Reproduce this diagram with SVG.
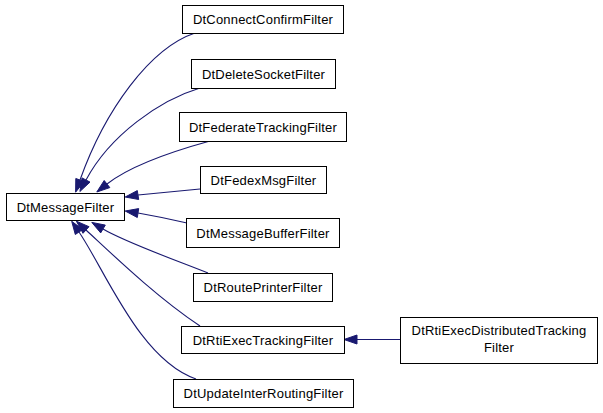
<svg xmlns="http://www.w3.org/2000/svg" width="603" height="413" viewBox="0 0 603 413">
<style>
.box{fill:#fff;stroke:#000;stroke-width:1}
.lbl{font-family:"Liberation Sans",Arial,sans-serif;font-size:13px;letter-spacing:0.2px;fill:#000;text-anchor:middle}
.edge{fill:none;stroke:#191970;stroke-width:1.1}
.head{fill:#191970;stroke:#191970;stroke-width:1}
</style>
<rect width="603" height="413" fill="#fff"/>
<g id="connectors">
<path class="edge" d="M195,33 C150,48 105,110 80,180"/>
<polygon class="head" points="84.2,181.5 75.6,192.2 75.8,178.5"/>
<path class="edge" d="M200,88 C160,100 110,135 86,180"/>
<polygon class="head" points="90,182.1 79.9,191.5 82,177.9"/>
<path class="edge" d="M210,141 C170,152 130,166 107,184"/>
<polygon class="head" points="109.8,187.6 96.8,192 104.2,180.5"/>
<path class="edge" d="M200,189 C180,191 160,193 138,195"/>
<polygon class="head" points="138.7,199.5 125.2,197 137.3,190.6"/>
<path class="edge" d="M187,223 C170,219 155,216 138,213"/>
<polygon class="head" points="137.3,217.5 125.2,211 138.7,208.6"/>
<path class="edge" d="M208,273 C170,258 125,242 103,229"/>
<polygon class="head" points="105.3,225.1 91.8,222.4 100.7,232.9"/>
<path class="edge" d="M200,326 C155,296 110,252 86,230"/>
<polygon class="head" points="89,226.7 76.4,221.2 83,233.3"/>
<path class="edge" d="M196,379 C140,360 105,270 79,232"/>
<polygon class="head" points="82.7,229.5 71.7,221.3 75.3,234.5"/>
<path class="edge" d="M400,339.5 L357,339.5"/>
<polygon class="head" points="357,344 344,339.5 357,335"/>
</g>
<g id="DtMessageFilter"><rect class="box" x="6.5" y="193.5" width="118" height="27"/><text class="lbl" x="65.5" y="211.5">DtMessageFilter</text></g>
<g id="DtConnectConfirmFilter"><rect class="box" x="182.5" y="5.5" width="161" height="28"/><text class="lbl" x="263" y="24">DtConnectConfirmFilter</text></g>
<g id="DtDeleteSocketFilter"><rect class="box" x="191.5" y="59.5" width="144" height="29"/><text class="lbl" x="263.5" y="78.5">DtDeleteSocketFilter</text></g>
<g id="DtFederateTrackingFilter"><rect class="box" x="179.5" y="112.5" width="167" height="29"/><text class="lbl" x="263" y="131.5">DtFederateTrackingFilter</text></g>
<g id="DtFedexMsgFilter"><rect class="box" x="200.5" y="166.5" width="126" height="27"/><text class="lbl" x="263.5" y="184.5">DtFedexMsgFilter</text></g>
<g id="DtMessageBufferFilter"><rect class="box" x="186.5" y="218.5" width="153" height="29"/><text class="lbl" x="263" y="237.5">DtMessageBufferFilter</text></g>
<g id="DtRoutePrinterFilter"><rect class="box" x="193.5" y="273.5" width="139" height="28"/><text class="lbl" x="263" y="292">DtRoutePrinterFilter</text></g>
<g id="DtRtiExecTrackingFilter"><rect class="box" x="181.5" y="326.5" width="163" height="27"/><text class="lbl" x="263" y="344.5">DtRtiExecTrackingFilter</text></g>
<g id="DtUpdateInterRoutingFilter"><rect class="box" x="173.5" y="379.5" width="180" height="28"/><text class="lbl" x="263.5" y="398">DtUpdateInterRoutingFilter</text></g>
<g id="DtRtiExecDistributedTrackingFilter"><rect class="box" x="400.5" y="317.5" width="197" height="46"/><text class="lbl" x="499" y="335">DtRtiExecDistributedTracking</text><text class="lbl" x="499" y="352">Filter</text></g>
</svg>
